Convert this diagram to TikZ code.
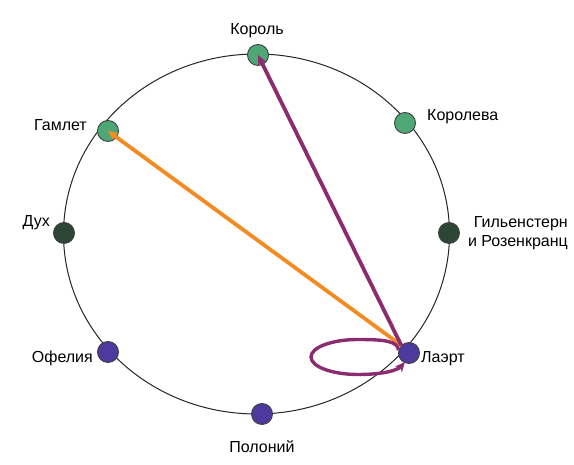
\documentclass[tikz,border=0pt]{standalone}
\usepackage{fontspec}
\setmainfont{Liberation Sans}
\usetikzlibrary{arrows.meta}
\definecolor{dotgreen}{RGB}{78,168,118}
\definecolor{dotdark}{RGB}{44,70,54}
\definecolor{dotpurple}{RGB}{76,58,158}
\definecolor{arrorange}{RGB}{242,140,34}
\definecolor{arrpurple}{RGB}{140,44,112}
\tikzset{
  person/.style={circle,minimum size=21pt,inner sep=0pt,draw=black!75,line width=0.9pt},
  pgreen/.style={person,fill=dotgreen},
  pdark/.style={person,fill=dotdark},
  ppurple/.style={person,fill=dotpurple},
  lbl/.style={font=\fontsize{16}{18.5}\selectfont,inner sep=0pt,text=black},
  rel/.style={line width=3.8pt,-{Stealth[length=10pt,width=9pt]}},
}
\begin{document}
\begin{tikzpicture}[x=1pt,y=1pt]
\useasboundingbox (0,0) rectangle (574,465);
\fill[white] (0,0) rectangle (574,465);
\draw[black!85,line width=1pt] (256.5,231) ellipse [x radius=193, y radius=180];
% persons (TikZ y = 465 - image y)
\node[pgreen] (korol) at (258,410) {};
\node[pgreen] (koroleva) at (405,342) {};
\node[pdark] (gilden) at (449,232) {};
\node[ppurple] (laert) at (409,112) {};
\node[ppurple] (polonij) at (262,51) {};
\node[ppurple] (ofelia) at (108,113) {};
\node[pdark] (duh) at (64,232) {};
\node[pgreen] (gamlet) at (108,334) {};
% labels
\node[lbl] (lkorol) at (257,434) {Король};
\node[lbl,anchor=west] (lkoroleva) at (427,348) {Королева};
\node[lbl,anchor=east,align=right] (lgilden) at (568,232) {Гильенстерн\\и Розенкранц};
\node[lbl,anchor=west] (llaert) at (421,106) {Лаэрт};
\node[lbl] (lpolonij) at (262,18) {Полоний};
\node[lbl,anchor=east] (lofelia) at (93,107) {Офелия};
\node[lbl,anchor=east] (lduh) at (50,242) {Дух};
\node[lbl,anchor=east] (lgamlet) at (87,340) {Гамлет};
% relations
\coordinate (lstart) at (laert.135);
\draw[rel,arrorange] (lstart) -- (gamlet.center);
\draw[rel,arrpurple] (lstart) -- (korol.center);
\coordinate (ltop) at (358,125.5);
\coordinate (lleft) at (311,108);
\coordinate (lbot) at (358,90.5);
\coordinate (lend) at (405,103);
\draw[rel,arrpurple,line width=3.4pt] (laert.165) .. controls (398,124) and (384,125.5) .. (ltop)
  .. controls (332,125.5) and (311,117.7) .. (lleft)
  .. controls (311,98.3) and (332,90.5) .. (lbot)
  .. controls (384,90.5) and (398,95) .. (lend);
\end{tikzpicture}
\end{document}
